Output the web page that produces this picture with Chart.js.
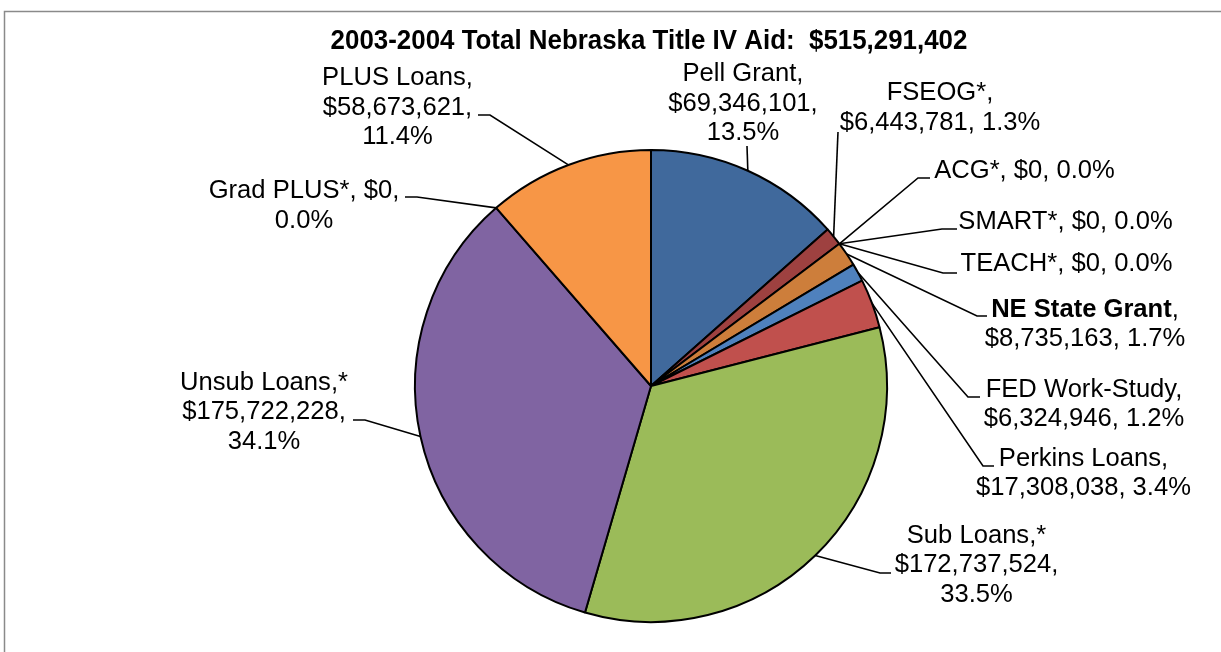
<!DOCTYPE html>
<html>
<head>
<meta charset="utf-8">
<script src="https://cdn.jsdelivr.net/npm/chart.js@4.4.1/dist/chart.umd.min.js"></script>
<style>
  html, body { margin: 0; padding: 0; background: #ffffff; }
  #wrap { width: 1221px; height: 652px; position: relative; }
</style>
</head>
<body>
<div id="wrap"><canvas id="c"></canvas></div>
<script>
// ---- data ----
const titlePrefix = '2003-2004 Total Nebraska Title IV Aid:  ';
const categories = ['Pell Grant', 'FSEOG*', 'ACG*', 'SMART*', 'TEACH*', 'NE State Grant',
  'FED Work-Study', 'Perkins Loans', 'Sub Loans,*', 'Unsub Loans,*', 'Grad PLUS*', 'PLUS Loans'];
const values = [69346101, 6443781, 0, 0, 0, 8735163, 6324946, 17308038, 172737524, 175722228, 0, 58673621];

// ---- styles ----
const colors = ['#40699C', '#9E4140', '#7F9A48', '#67518A', '#3D8FA4', '#CD7E3B',
  '#4F81BD', '#C0504D', '#9BBB59', '#8064A2', '#4BACC6', '#F79646'];
const FONT = '"Liberation Sans", Arial, sans-serif';
const LABEL_SIZE = 25.6;
const LINE_H = 29.5;

// label layout: wrap mode, center x, first baseline, leader points (elbow, end)
const labelLayout = [
  { wrap: '3',  cx: 743,    y: 81,    leader: [[747, 146]] },
  { wrap: '2',  cx: 940,    y: 100,   leader: [[838, 132]] },
  { wrap: '1',  cx: 1024.5, y: 177.5, leader: [[918, 178], [930, 178]] },
  { wrap: '1',  cx: 1065.5, y: 228.5, leader: [[942, 229], [957, 229]] },
  { wrap: '1',  cx: 1066.5, y: 271,   leader: [[943, 273], [957, 273]] },
  { wrap: '2',  cx: 1085,   y: 316.5, leader: [[977, 316], [987, 316]], boldName: true },
  { wrap: '2',  cx: 1084,   y: 396.5, leader: [[968, 397], [980, 397]] },
  { wrap: '2',  cx: 1083.5, y: 465.5, leader: [[983, 466], [994, 466]] },
  { wrap: '3',  cx: 976.5,  y: 542.5, leader: [[880, 573], [891, 573]] },
  { wrap: '3',  cx: 264,    y: 389.5, leader: [[365, 420], [353, 420]] },
  { wrap: '2b', cx: 304,    y: 198,   leader: [[417, 197], [405, 197]] },
  { wrap: '3',  cx: 397.5,  y: 85,    leader: [[490, 115], [478, 115]] }
];

const total = values.reduce((a, b) => a + b, 0);
const money = v => '$' + v.toLocaleString('en-US');
const pct = v => (v / total * 100).toFixed(1) + '%';

function labelLines(i) {
  const name = categories[i];
  const first = name.endsWith(',*') ? name : name + ',';
  const v = money(values[i]);
  const p = pct(values[i]);
  const w = labelLayout[i].wrap;
  if (w === '3') return [[first], [v + ','], [p]];
  if (w === '2') return [[first], [v + ', ' + p]];
  if (w === '2b') return [[first + ' ' + v + ','], [p]];
  return [[first + ' ' + v + ', ' + p]];
}

const decor = {
  id: 'decor',
  beforeDraw(chart) {
    const ctx = chart.ctx;
    ctx.save();
    ctx.fillStyle = '#ffffff';
    ctx.fillRect(0, 0, chart.width, chart.height);
    ctx.strokeStyle = '#8a8a8a';
    ctx.lineWidth = 1.5;
    ctx.beginPath();
    ctx.moveTo(4.5, chart.height);
    ctx.lineTo(4.5, 11.5);
    ctx.lineTo(chart.width, 11.5);
    ctx.stroke();
    ctx.restore();
  },
  afterDatasetsDraw(chart) {
    const ctx = chart.ctx;
    const arcs = chart.getDatasetMeta(0).data;
    ctx.save();
    // leader lines
    ctx.strokeStyle = '#000000';
    ctx.lineWidth = 1.6;
    arcs.forEach((arc, i) => {
      const p = arc.getProps(['x', 'y', 'startAngle', 'endAngle', 'outerRadius'], true);
      const mid = (p.startAngle + p.endAngle) / 2;
      const sx = p.x + Math.cos(mid) * p.outerRadius;
      const sy = p.y + Math.sin(mid) * p.outerRadius;
      ctx.beginPath();
      ctx.moveTo(sx, sy);
      labelLayout[i].leader.forEach(pt => ctx.lineTo(pt[0], pt[1]));
      ctx.stroke();
    });
    // labels
    ctx.fillStyle = '#000000';
    ctx.textBaseline = 'alphabetic';
    ctx.textAlign = 'left';
    const reg = LABEL_SIZE + 'px ' + FONT;
    const bold = 'bold ' + LABEL_SIZE + 'px ' + FONT;
    labelLayout.forEach((L, i) => {
      const lines = labelLines(i);
      lines.forEach((line, k) => {
        let segs = [{ t: line[0], f: reg }];
        if (L.boldName && k === 0) {
          const nm = categories[i];
          segs = [{ t: nm, f: bold }, { t: line[0].slice(nm.length), f: reg }];
        }
        let w = 0;
        segs.forEach(s => { ctx.font = s.f; s.w = ctx.measureText(s.t).width; w += s.w; });
        let x = L.cx - w / 2;
        const y = L.y + k * LINE_H;
        segs.forEach(s => { ctx.font = s.f; ctx.fillText(s.t, x, y); x += s.w; });
      });
    });
    // title
    ctx.font = 'bold 28px ' + FONT;
    const title = titlePrefix + money(total);
    const tw = ctx.measureText(title).width;
    const sx = 0.925;
    ctx.save();
    ctx.translate(649, 48.5);
    ctx.scale(sx, 1);
    ctx.fillText(title, -tw / 2, 0);
    ctx.restore();
    ctx.restore();
  }
};

new Chart(document.getElementById('c'), {
  type: 'pie',
  data: {
    labels: categories,
    datasets: [{
      data: values,
      backgroundColor: colors,
      borderColor: '#000000',
      borderWidth: 2,
      radius: 236
    }]
  },
  options: {
    responsive: true,
    maintainAspectRatio: false,
    devicePixelRatio: 1,
    animation: false,
    rotation: 0,
    layout: { padding: { left: 91, right: 10, top: 130, bottom: 10 } },
    plugins: {
      legend: { display: false },
      title: { display: false },
      tooltip: { enabled: false }
    }
  },
  plugins: [decor]
});
</script>
</body>
</html>
